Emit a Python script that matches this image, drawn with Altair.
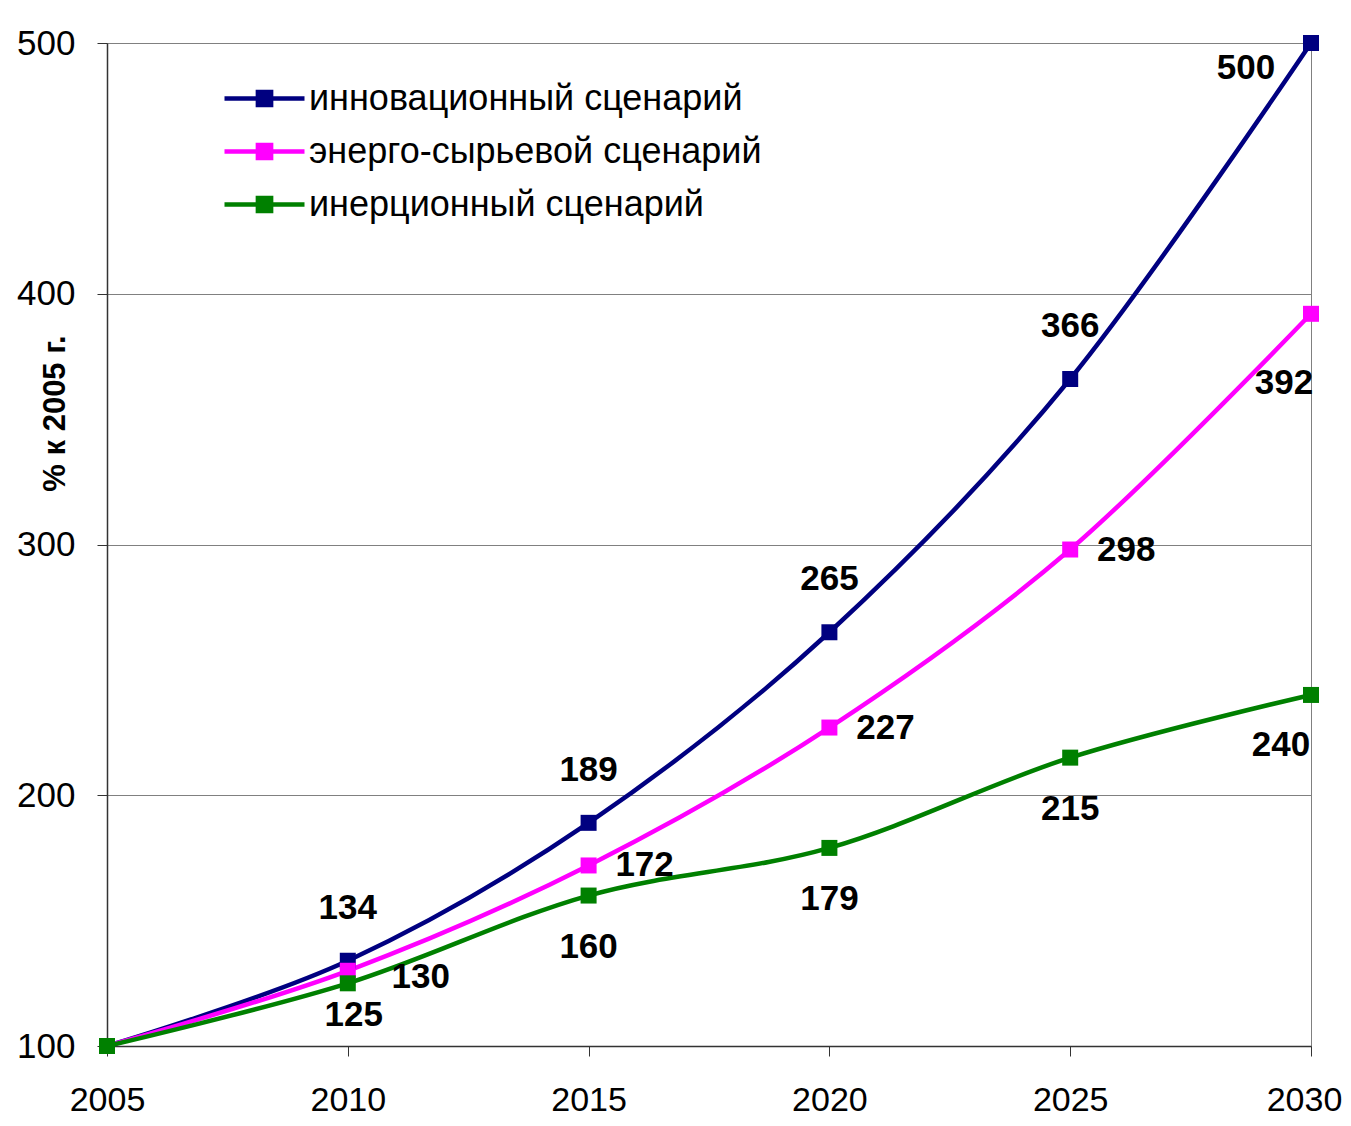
import altair as alt
import pandas as pd

years = [2005, 2010, 2015, 2020, 2025, 2030]
series_names = ["инновационный сценарий", "энерго-сырьевой сценарий", "инерционный сценарий"]
innov = [100, 134, 189, 265, 366, 500]
energo = [100, 130, 172, 227, 298, 392]
inert = [100, 125, 160, 179, 215, 240]
colors = ["#000080", "#FF00FF", "#008000"]
y_ticks = [100, 200, 300, 400, 500]

rows = []
for name, vals in zip(series_names, [innov, energo, inert]):
    for yr, v in zip(years, vals):
        rows.append({"year": yr, "value": v, "series": name})
df = pd.DataFrame(rows)

FONT = "Liberation Sans"

x = alt.X("year:Q", scale=alt.Scale(domain=[2005, 2030], nice=False, zero=False),
          axis=alt.Axis(values=years, format="d", title=None, grid=False,
                        labelFontSize=34, labelFont=FONT, labelColor="black",
                        labelFlush=False,
                        labelOffset={"condition": {"test": "datum.value == 2030", "value": -7},
                                     "value": 0},
                        tickSize=10, tickColor="#333333", domainColor="#333333",
                        domainWidth=1.5, labelPadding=27))
y = alt.Y("value:Q", scale=alt.Scale(domain=[100, 500], nice=False, zero=False),
          axis=alt.Axis(values=y_ticks, title="% к 2005 г.", grid=True, gridColor="#808080",
                        gridWidth=1, labelFontSize=35, labelFont=FONT, labelColor="black",
                        labelFlush=False,
                        tickSize=10, tickColor="#333333", domainColor="#333333",
                        domainWidth=1.5, labelPadding=22,
                        titleFont=FONT, titleFontSize=31, titleFontWeight="bold",
                        titleColor="black", titleX=-52, titleY=370,
                        titleAlign="center", titleBaseline="middle", titleAngle=270))

scale = alt.Scale(domain=series_names, range=colors)
legend = alt.Legend(orient="none", legendX=135, legendY=33, title=None,
                    symbolType="M-2,0H2M-0.33,-0.33H0.33V0.33H-0.33Z",
                    symbolSize=1600, symbolStrokeWidth=4.5, symbolOpacity=1,
                    labelFontSize=36, labelFont=FONT, labelColor="black",
                    labelOffset=22, rowPadding=12, padding=0, labelLimit=800)

base = alt.Chart(df)

lines = base.mark_line(strokeWidth=4.5, interpolate="cardinal").encode(
    x=x, y=y,
    stroke=alt.Stroke("series:N", scale=scale, legend=legend, sort=series_names),
    order=alt.Order("year:Q"),
    detail="series:N",
)
points = base.mark_square(size=256, filled=True, opacity=1).encode(
    x=x, y=y,
    fill=alt.Fill("series:N", scale=scale, legend=legend, sort=series_names),
)

def labels(series, yrs, dx, dy):
    return base.transform_filter(
        alt.FieldEqualPredicate(field="series", equal=series)
    ).transform_filter(
        alt.FieldOneOfPredicate(field="year", oneOf=yrs)
    ).mark_text(font=FONT, fontSize=35, fontWeight="bold", color="black",
                dx=dx, dy=dy, align="center", baseline="middle").encode(
        x="year:Q", y="value:Q", text="value:Q")

text_layers = [
    labels(series_names[0], [2010, 2015, 2020, 2025], 0, -53),
    labels(series_names[0], [2030], -65, 25),
    labels(series_names[1], [2010], 73, 6),
    labels(series_names[1], [2015, 2020, 2025], 56, 0),
    labels(series_names[1], [2030], -27, 69),
    labels(series_names[2], [2010], 6, 32),
    labels(series_names[2], [2015, 2020, 2025], 0, 51),
    labels(series_names[2], [2030], -30, 50),
]

chart = alt.layer(lines, points, *text_layers).properties(
    width=1204, height=1003,
    autosize=alt.AutoSizeParams(type="none"),
    padding={"left": 99, "top": 35, "right": 31, "bottom": 70},
    background="white",
).configure_view(stroke="#808080", strokeWidth=1)

chart.save("out.html", embed_options={"renderer": "svg", "actions": False})
